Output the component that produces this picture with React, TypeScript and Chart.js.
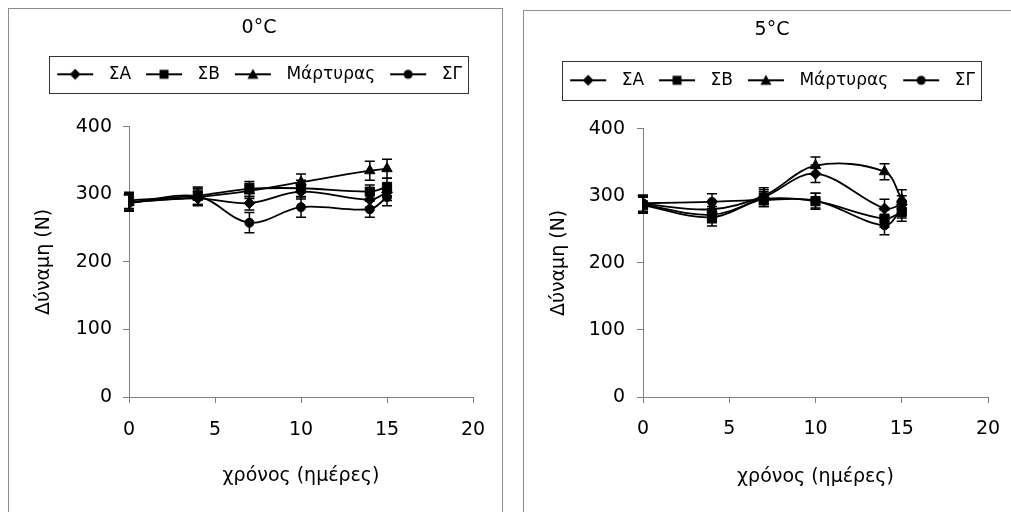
import React, { useEffect, useRef } from "react";
import { Chart, registerables } from "chart.js";

Chart.register(...registerables);

const FONT = "'DejaVu Sans', 'Liberation Sans', Arial, sans-serif";

// Sampling days and shared labels
const days = [0, 4, 7, 10, 14, 15];
const seriesLabels = ["ΣΑ", "ΣΒ", "Μάρτυρας", "ΣΓ"];
const seriesMarkers = ["rectRot", "rect", "triangle", "circle"];
const xTickValues = [0, 5, 10, 15, 20];
const yTickValues = [0, 100, 200, 300, 400];
const xAxisTitle = "χρόνος (ημέρες)";
const yAxisTitle = "Δύναμη (N)";

// Storage at 0°C: mean force (N) and ± error
const title0 = "0°C";
const sa0 = [289, 294, 287, 304, 292, 303];
const sb0 = [291, 298, 308, 309, 304, 311];
const control0 = [288, 296, 305, 318, 335, 338];
const sg0 = [287, 297, 258, 281, 278, 296];
const saErr0 = [12, 11, 10, 11, 11, 12];
const sbErr0 = [12, 13, 11, 12, 10, 13];
const controlErr0 = [12, 12, 11, 12, 14, 14];
const sgErr0 = [12, 12, 15, 15, 12, 13];

// Storage at 5°C: mean force (N) and ± error
const title5 = "5°C";
const sa5 = [287, 272, 298, 333, 281, 287];
const sb5 = [286, 268, 295, 292, 266, 276];
const control5 = [288, 280, 300, 345, 336, 295];
const sg5 = [289, 291, 294, 293, 256, 280];
const saErr5 = [12, 12, 11, 13, 14, 13];
const sbErr5 = [12, 13, 11, 12, 13, 14];
const controlErr5 = [13, 12, 12, 13, 12, 14];
const sgErr5 = [12, 12, 10, 11, 14, 13];

const markerRadius: Record<string, number> = { rectRot: 5.5, rect: 6.5, triangle: 6, circle: 4.5 };

// Small "line + marker" glyph used as the legend symbol
function makeGlyph(style: string): HTMLCanvasElement {
  const c = document.createElement("canvas");
  c.width = 44;
  c.height = 14;
  const g = c.getContext("2d")!;
  g.strokeStyle = "#000";
  g.fillStyle = "#000";
  g.lineWidth = 1.8;
  g.beginPath();
  g.moveTo(1, 7);
  g.lineTo(37, 7);
  g.stroke();
  const cx = 19, cy = 7;
  g.beginPath();
  if (style === "rectRot") {
    g.moveTo(cx, cy - 5.5); g.lineTo(cx + 5.5, cy); g.lineTo(cx, cy + 5.5); g.lineTo(cx - 5.5, cy);
  } else if (style === "rect") {
    g.rect(cx - 4.5, cy - 4.5, 9, 9);
  } else if (style === "triangle") {
    g.moveTo(cx, cy - 5.5); g.lineTo(cx + 5.5, cy + 4.5); g.lineTo(cx - 5.5, cy + 4.5);
  } else {
    g.arc(cx, cy, 4.5, 0, Math.PI * 2);
  }
  g.closePath();
  g.fill();
  return c;
}

// Vertical error bars with caps
const errorBarsPlugin = {
  id: "errorBars",
  afterDatasetsDraw(chart: any) {
    const { ctx } = chart;
    const y = chart.scales.y;
    chart.data.datasets.forEach((ds: any, i: number) => {
      const meta = chart.getDatasetMeta(i);
      ctx.save();
      ctx.strokeStyle = ds.borderColor;
      ctx.lineWidth = 1.5;
      meta.data.forEach((pt: any, j: number) => {
        const v = ds.data[j].y;
        const e = ds.errorBars[j];
        const top = y.getPixelForValue(v + e);
        const bot = y.getPixelForValue(v - e);
        ctx.beginPath();
        ctx.moveTo(pt.x, top);
        ctx.lineTo(pt.x, bot);
        ctx.moveTo(pt.x - 5, top);
        ctx.lineTo(pt.x + 5, top);
        ctx.moveTo(pt.x - 5, bot);
        ctx.lineTo(pt.x + 5, bot);
        ctx.stroke();
      });
      ctx.restore();
    });
  },
};

// Frame drawn around the legend row
const legendFramePlugin = {
  id: "legendFrame",
  afterDraw(chart: any, _args: any, opts: any) {
    const hb = chart.legend && chart.legend.legendHitBoxes;
    if (!hb || !hb.length) return;
    const first = hb[0];
    const last = hb[hb.length - 1];
    const left = Math.round(first.left - opts.padLeft) + 0.5;
    const right = Math.round(last.left + last.width + opts.padRight) + 0.5;
    const top = Math.round(first.top - opts.padY) + 0.5;
    const bottom = Math.round(first.top + first.height + opts.padY) + 0.5;
    const { ctx } = chart;
    ctx.save();
    ctx.strokeStyle = "#333";
    ctx.lineWidth = 1;
    ctx.strokeRect(left, top, right - left, bottom - top);
    ctx.restore();
  },
};

type Geom = {
  padL: number;
  padR: number;
  yScaleWidth: number;
  xScaleHeight: number;
  plotRightGap: number;
  titlePadTop: number;
  titlePadBottom: number;
  spacer: number;
  yTitlePad: number;
  xTitlePad: number;
  xTickPad: number;
  yTickPad: number;
  framePadY: number;
};

type PanelProps = {
  title: string;
  series: number[][];
  errors: number[][];
  left: number;
  top: number;
  width: number;
  height: number;
  geom: Geom;
};

function Panel({ title, series, errors, left, top, width, height, geom }: PanelProps) {
  const ref = useRef<HTMLCanvasElement>(null);

  useEffect(() => {
    const glyphs = seriesMarkers.map(makeGlyph);
    const datasets = series.map((vals, i) => ({
      label: seriesLabels[i],
      data: days.map((d, j) => ({ x: d, y: vals[j] })),
      errorBars: errors[i],
      borderColor: "#000",
      backgroundColor: "#000",
      borderWidth: 1.8,
      pointStyle: seriesMarkers[i],
      pointRadius: markerRadius[seriesMarkers[i]],
      pointBorderWidth: 1,
      tension: 0.35,
      fill: false,
    }));

    const chart = new Chart(ref.current!, {
      type: "line",
      data: { datasets },
      plugins: [errorBarsPlugin, legendFramePlugin],
      options: {
        animation: false,
        responsive: false,
        layout: { padding: { left: geom.padL, right: geom.padR, top: 0, bottom: 0 } },
        plugins: {
          title: {
            display: true,
            text: title,
            color: "#000",
            font: { family: FONT, size: 19, weight: "normal" },
            padding: { top: geom.titlePadTop, bottom: geom.titlePadBottom },
          },
          subtitle: {
            display: true,
            text: "",
            weight: 500,
            font: { family: FONT, size: 1, lineHeight: 1 },
            padding: { top: geom.spacer - 1, bottom: 0 },
          },
          legend: {
            display: true,
            position: "top",
            labels: {
              usePointStyle: true,
              pointStyleWidth: 44,
              padding: 14,
              color: "#000",
              font: { family: FONT, size: 17 },
              generateLabels: (c: any) =>
                c.data.datasets.map((ds: any, i: number) => ({
                  text: ds.label,
                  pointStyle: glyphs[i],
                  fillStyle: "#000",
                  strokeStyle: "#000",
                  lineWidth: 0,
                  hidden: false,
                  datasetIndex: i,
                })),
            },
          },
          legendFrame: { padLeft: 7, padRight: 6, padY: geom.framePadY },
          tooltip: { enabled: false },
        },
        scales: {
          x: {
            type: "linear",
            min: xTickValues[0],
            max: xTickValues[xTickValues.length - 1],
            afterBuildTicks: (s: any) => {
              s.ticks = xTickValues.map((v) => ({ value: v }));
            },
            afterFit: (s: any) => {
              s.height = geom.xScaleHeight;
              s.paddingRight = geom.plotRightGap;
            },
            grid: { display: true, drawOnChartArea: false, drawTicks: true, tickLength: 6, color: "#808080" },
            border: { display: true, color: "#808080", width: 1 },
            ticks: {
              color: "#000",
              padding: geom.xTickPad,
              maxRotation: 0,
              font: { family: FONT, size: 19 },
            },
            title: {
              display: true,
              text: xAxisTitle,
              color: "#000",
              font: { family: FONT, size: 19 },
              padding: { top: 0, bottom: geom.xTitlePad },
            },
          },
          y: {
            type: "linear",
            min: yTickValues[0],
            max: yTickValues[yTickValues.length - 1],
            afterBuildTicks: (s: any) => {
              s.ticks = yTickValues.map((v) => ({ value: v }));
            },
            afterFit: (s: any) => {
              s.width = geom.yScaleWidth;
            },
            grid: { display: true, drawOnChartArea: false, drawTicks: true, tickLength: 6, color: "#808080" },
            border: { display: true, color: "#808080", width: 1 },
            ticks: {
              color: "#000",
              padding: geom.yTickPad,
              font: { family: FONT, size: 19 },
            },
            title: {
              display: true,
              text: yAxisTitle,
              color: "#000",
              font: { family: FONT, size: 19 },
              padding: { top: geom.yTitlePad, bottom: 0 },
            },
          },
        },
      },
    } as any);

    return () => chart.destroy();
  }, []);

  return (
    <div
      style={{
        position: "absolute",
        left,
        top,
        width,
        height,
        border: "1px solid #8c8c8c",
        background: "#fff",
      }}
    >
      <canvas ref={ref} width={width} height={height} style={{ display: "block" }} />
    </div>
  );
}

const geom0: Geom = {
  padL: 7,
  padR: 0,
  yScaleWidth: 113,
  xScaleHeight: 122,
  plotRightGap: 29,
  titlePadTop: 8,
  titlePadBottom: 12,
  spacer: 34,
  yTitlePad: 17,
  xTitlePad: 32,
  xTickPad: 16,
  yTickPad: 11,
  framePadY: 10,
};

const geom5: Geom = {
  padL: 4,
  padR: 0,
  yScaleWidth: 115,
  xScaleHeight: 124,
  plotRightGap: 28,
  titlePadTop: 8,
  titlePadBottom: 16,
  spacer: 30,
  yTitlePad: 20,
  xTitlePad: 33,
  xTickPad: 15,
  yTickPad: 12,
  framePadY: 11,
};

export default function App() {
  return (
    <div style={{ position: "absolute", left: 0, top: 0, width: 1011, height: 512, overflow: "hidden", background: "#fff" }}>
      <Panel
        title={title0}
        series={[sa0, sb0, control0, sg0]}
        errors={[saErr0, sbErr0, controlErr0, sgErr0]}
        left={8}
        top={8}
        width={493}
        height={510}
        geom={geom0}
      />
      <Panel
        title={title5}
        series={[sa5, sb5, control5, sg5]}
        errors={[saErr5, sbErr5, controlErr5, sgErr5]}
        left={523}
        top={10}
        width={492}
        height={510}
        geom={geom5}
      />
    </div>
  );
}
